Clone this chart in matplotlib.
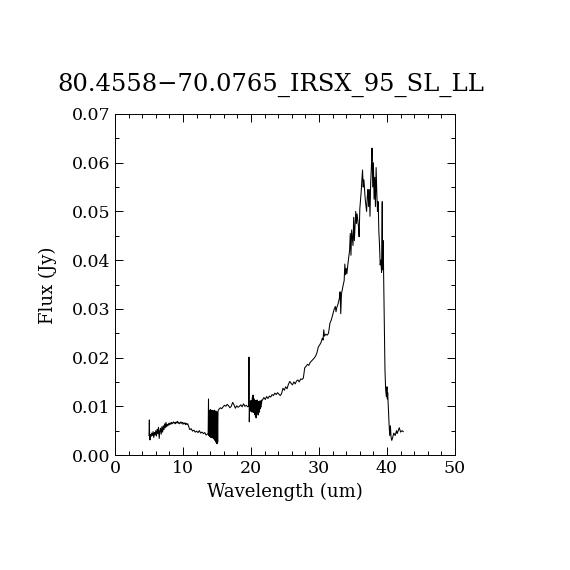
# IRS spectrum plot, IDL-like style
import matplotlib
matplotlib.use("Agg")
import matplotlib.pyplot as plt
import numpy as np
from matplotlib.ticker import MultipleLocator

title = "80.4558\u221270.0765_IRSX_95_SL_LL"

# short-low part, 5 - 13.6 um
wl_sl = [5.0, 5.05, 5.1, 5.15, 5.2, 5.3, 5.4, 5.5, 5.6, 5.7, 5.8, 5.9, 6.0, 6.1, 6.2,
         6.3, 6.4, 6.5, 6.6, 6.7, 6.8, 6.9, 7.0, 7.1, 7.2, 7.3, 7.4, 7.5, 7.6, 7.7,
         7.8, 7.9, 8.0, 8.1, 8.2, 8.3, 8.4, 8.5, 8.6, 8.7, 8.8, 8.9, 9.0, 9.1, 9.2,
         9.3, 9.4, 9.5, 9.6, 9.7, 9.8, 9.9, 10.0, 10.1, 10.2, 10.3, 10.4, 10.5, 10.6,
         10.7, 10.8, 10.9, 11.0, 11.2, 11.4, 11.6, 11.8, 12.0, 12.2, 12.4, 12.6, 12.8,
         13.0, 13.2, 13.4, 13.6]
flux_sl = [0.0040, 0.0072, 0.0035, 0.0031, 0.0042, 0.0038, 0.0045, 0.0040, 0.0048, 0.0036,
           0.0046, 0.0041, 0.0050, 0.0039, 0.0053, 0.0044, 0.0057, 0.0034, 0.0049, 0.0055,
           0.0043, 0.0058, 0.0047, 0.0060, 0.0052, 0.0064, 0.0056, 0.0067, 0.0058, 0.0063,
           0.0060, 0.0065, 0.0062, 0.0066, 0.0063, 0.0067, 0.0064, 0.0066, 0.0068, 0.0065,
           0.0067, 0.0064, 0.0068, 0.0066, 0.0069, 0.0065, 0.0067, 0.0064, 0.0066, 0.0068,
           0.0065, 0.0067, 0.0063, 0.0066, 0.0064, 0.0066, 0.0062, 0.0065, 0.0063, 0.0064,
           0.0060, 0.0056, 0.0052, 0.0054, 0.0049, 0.0051, 0.0047, 0.0049, 0.0046, 0.0050,
           0.0045, 0.0047, 0.0044, 0.0046, 0.0041, 0.0043]

# noisy overlap region 13.7 - 15.2 um
wl_edge = [13.70, 13.75, 13.80, 13.85, 13.90, 13.95, 14.00, 14.05, 14.10, 14.15, 14.20,
           14.25, 14.30, 14.35, 14.40, 14.45, 14.50, 14.55, 14.60, 14.65, 14.70, 14.75,
           14.80, 14.85, 14.90, 14.95, 15.00, 15.05, 15.10, 15.15, 15.20]
flux_edge = [0.0045, 0.0115, 0.0040, 0.0092, 0.0038, 0.0090, 0.0042, 0.0093, 0.0036, 0.0089,
             0.0040, 0.0092, 0.0035, 0.0090, 0.0038, 0.0091, 0.0033, 0.0088, 0.0036, 0.0092,
             0.0030, 0.0089, 0.0028, 0.0090, 0.0025, 0.0087, 0.0023, 0.0088, 0.0026, 0.0090,
             0.0092]

# long-low start, 15.3 - 19.8 um
wl_ll2 = [15.3, 15.5, 15.7, 15.9, 16.1, 16.3, 16.5, 16.7, 16.9, 17.1, 17.3, 17.5, 17.7,
          17.9, 18.1, 18.3, 18.5, 18.7, 18.9, 19.1, 19.3, 19.5, 19.65, 19.7, 19.75, 19.8]
flux_ll2 = [0.0094, 0.0097, 0.0095, 0.0099, 0.0102, 0.0100, 0.0104, 0.0101, 0.0097, 0.0100,
            0.0108, 0.0103, 0.0096, 0.0101, 0.0098, 0.0100, 0.0103, 0.0099, 0.0105, 0.0100,
            0.0102, 0.0099, 0.0100, 0.0201, 0.0068, 0.0102]

# noisy patch 19.85 - 21.6 um
wl_noisy = [19.85, 19.90, 19.95, 20.00, 20.05, 20.10, 20.15, 20.20, 20.25, 20.30, 20.35,
            20.40, 20.45, 20.50, 20.55, 20.60, 20.65, 20.70, 20.75, 20.80, 20.85, 20.90,
            20.95, 21.00, 21.05, 21.10, 21.15, 21.20, 21.25, 21.30, 21.35, 21.40, 21.45,
            21.50, 21.55, 21.60]
flux_noisy = [0.0095, 0.0108, 0.0090, 0.0112, 0.0093, 0.0105, 0.0088, 0.0118, 0.0092, 0.0123,
              0.0087, 0.0110, 0.0094, 0.0115, 0.0083, 0.0108, 0.0079, 0.0112, 0.0076, 0.0104,
              0.0085, 0.0113, 0.0089, 0.0106, 0.0082, 0.0110, 0.0093, 0.0104, 0.0088, 0.0111,
              0.0095, 0.0107, 0.0098, 0.0112, 0.0105, 0.0113]

# long-low 1, 21.7 - 42.4 um
wl_ll1 = [21.7, 21.9, 22.1, 22.3, 22.5, 22.7, 22.9, 23.1, 23.3, 23.5, 23.7, 23.9, 24.1,
          24.3, 24.5, 24.7, 24.9, 25.1, 25.3, 25.5, 25.7, 25.9, 26.1, 26.3, 26.5, 26.7,
          26.9, 27.1, 27.3, 27.5, 27.7, 27.9, 28.1, 28.3, 28.5, 28.7, 28.9, 29.1, 29.3,
          29.5, 29.7, 29.9, 30.1, 30.3, 30.5, 30.6, 30.7, 30.8, 31.0, 31.2, 31.4,
          31.6, 31.8, 32.0, 32.2, 32.4, 32.5, 32.6, 32.8, 33.0, 33.1, 33.2, 33.3, 33.5,
          33.7, 33.8, 33.9, 34.0, 34.1, 34.3, 34.5, 34.6, 34.7, 34.8, 35.0, 35.1, 35.2,
          35.4, 35.5, 35.6, 35.8, 35.9, 36.0, 36.2, 36.4, 36.5, 36.6, 36.8, 37.0, 37.1,
          37.2, 37.3, 37.4, 37.5, 37.6, 37.7, 37.8, 37.9, 38.0, 38.1, 38.2, 38.3, 38.4,
          38.5, 38.6, 38.7, 38.8, 38.9, 39.0, 39.1, 39.2, 39.3, 39.35, 39.45, 39.5, 39.7,
          39.8, 39.9, 40.0, 40.05, 40.1, 40.2, 40.3, 40.4, 40.5, 40.6, 40.7, 40.8, 41.0,
          41.2, 41.4, 41.5, 41.7, 41.8, 42.0, 42.2, 42.4]
flux_ll1 = [0.0113, 0.0118, 0.0114, 0.0120, 0.0116, 0.0121, 0.0119, 0.0124, 0.0122, 0.0127,
            0.0124, 0.0128, 0.0125, 0.0122, 0.0126, 0.0137, 0.0133, 0.0140, 0.0136, 0.0145,
            0.0151, 0.0147, 0.0144, 0.0150, 0.0146, 0.0152, 0.0154, 0.0150, 0.0156, 0.0155,
            0.0158, 0.0179, 0.0182, 0.0186, 0.0184, 0.0190, 0.0193, 0.0196, 0.0199, 0.0203,
            0.0210, 0.0222, 0.0226, 0.0231, 0.0240, 0.0236, 0.0257, 0.0244, 0.0248, 0.0246,
            0.0250, 0.0270, 0.0277, 0.0287, 0.0298, 0.0305, 0.0294, 0.0302, 0.0310, 0.0322,
            0.0335, 0.0290, 0.0330, 0.0345, 0.0358, 0.0392, 0.0370, 0.0383, 0.0372, 0.0398,
            0.0420, 0.0455, 0.0410, 0.0462, 0.0430, 0.0488, 0.0440, 0.0500, 0.0475, 0.0495,
            0.0470, 0.0448, 0.0505, 0.0540, 0.0585, 0.0550, 0.0565, 0.0525, 0.0500, 0.0530,
            0.0545, 0.0510, 0.0545, 0.0490, 0.0560, 0.0590, 0.0630, 0.0550, 0.0600, 0.0525,
            0.0570, 0.0510, 0.0590, 0.0540, 0.0500, 0.0520, 0.0460, 0.0430, 0.0390, 0.0400,
            0.0375, 0.0520, 0.0380, 0.0440, 0.0374, 0.0175, 0.0135, 0.0120, 0.0140, 0.0115,
            0.0128, 0.0095, 0.0065, 0.0040, 0.0060, 0.0036, 0.0030, 0.0034, 0.0045, 0.0040,
            0.0050, 0.0044, 0.0052, 0.0056, 0.0047, 0.0050, 0.0048]

wl = np.concatenate([wl_sl, wl_edge, wl_ll2, wl_noisy, wl_ll1])
flux = np.concatenate([flux_sl, flux_edge, flux_ll2, flux_noisy, flux_ll1])

plt.rcParams["font.family"] = ["DejaVu Serif"]

fig = plt.figure(figsize=(5.7, 5.7), dpi=100)
ax = fig.add_axes([115 / 570, 115 / 570, 340 / 570, 341 / 570])
ax.plot(wl, flux, color="black", lw=0.75)

ax.set_xlim(0, 50)
ax.set_ylim(0, 0.07)
ax.xaxis.set_major_locator(MultipleLocator(10))
ax.xaxis.set_minor_locator(MultipleLocator(2))
ax.yaxis.set_major_locator(MultipleLocator(0.01))
ax.yaxis.set_minor_locator(MultipleLocator(0.005))
ax.yaxis.set_major_formatter(plt.FormatStrFormatter("%.2f"))
ax.tick_params(which="both", direction="in", top=True, right=True, labelsize=12.5,
               width=0.7, color="black")
ax.tick_params(which="major", length=6)
ax.tick_params(which="minor", length=3)
for s in ax.spines.values():
    s.set_linewidth(0.7)

fig.text(271 / 570, 1 - 85 / 570, title, ha="center", va="center", fontsize=17.5)
fig.text(285 / 570, 1 - 492 / 570, "Wavelength (um)", ha="center", va="center", fontsize=13)
fig.text(48 / 570, 1 - 285 / 570, "Flux (Jy)", ha="center", va="center",
         rotation=90, fontsize=13)

fig.savefig("out.png", dpi=100, facecolor="white")
